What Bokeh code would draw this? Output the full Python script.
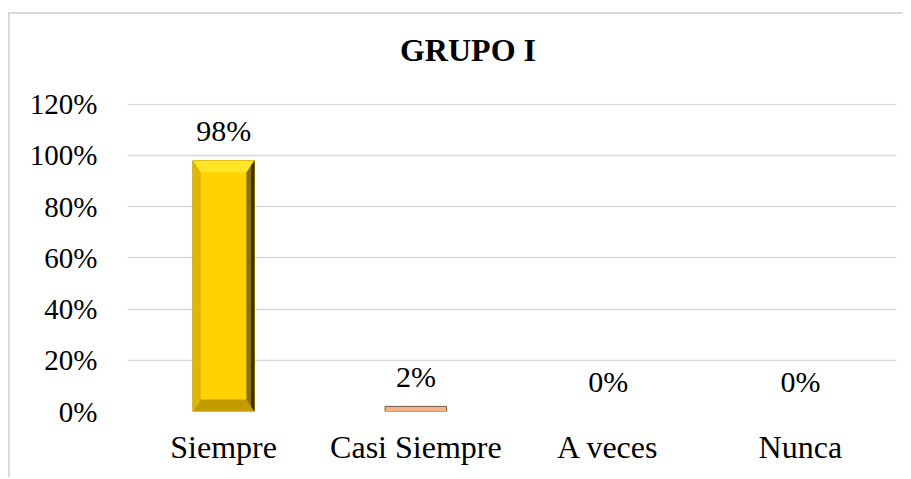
from bokeh.plotting import figure
from bokeh.models import (ColumnDataSource, FixedTicker, NumeralTickFormatter,
                          Range1d, LinearAxis)
from bokeh.core.properties import value
from bokeh.embed import file_html
from bokeh.resources import INLINE

# ---- data ----
categories = ["Siempre", "Casi Siempre", "A veces", "Nunca"]
values = [0.98, 0.02, 0.0, 0.0]
value_labels = ["98%", "2%", "0%", "0%"]
bar_colors = ["#FFD200", "#F4B183", "#A5A5A5", "#5B9BD5"]
y_ticks = [0.0, 0.2, 0.4, 0.6, 0.8, 1.0, 1.2]
title_text = "GRUPO I"

FONT = "Liberation Serif"
W, H = 895, 465
ML, MR, MT, MB = 117, 9, 89, 68
frame_w = W - ML - MR
frame_h = H - MT - MB
ymax = 1.203
n = len(categories)

p = figure(width=W, height=H, title=None,
           x_range=Range1d(0, n), y_range=Range1d(0, ymax),
           output_backend="svg", toolbar_location=None,
           min_border_left=ML, min_border_right=MR,
           min_border_top=MT, min_border_bottom=MB)
p.outline_line_color = None
p.background_fill_color = "white"
p.border_fill_color = "white"
p.styles = {"border-left": "2px solid #D9D9D9", "border-top": "2px solid #D9D9D9",
            "margin-left": "8px", "margin-top": "12px"}

# grid
p.xgrid.visible = False
p.ygrid.ticker = FixedTicker(ticks=y_ticks)
p.ygrid.grid_line_color = "#D9D9D9"
p.ygrid.grid_line_width = 1.5

# axes
centers = [i + 0.5 for i in range(n)]
xa = p.below[0]
ya = p.left[0]
xa.ticker = FixedTicker(ticks=centers)
xa.major_label_overrides = {c: cat for c, cat in zip(centers, categories)}
ya.ticker = FixedTicker(ticks=y_ticks)
ya.formatter = NumeralTickFormatter(format="0%")


def plain(ax):
    ax.axis_line_color = None
    ax.major_tick_line_color = None
    ax.minor_tick_line_color = None
    ax.major_tick_out = 0
    ax.major_tick_in = 0
    ax.minor_tick_out = 0
    ax.minor_tick_in = 0
    ax.major_label_text_font = FONT
    ax.major_label_text_color = "#000000"


plain(xa)
plain(ya)
ya.major_label_text_font_size = "29px"
ya.major_label_standoff = 30
xa.major_label_text_font_size = "32px"
xa.major_label_standoff = 17

# bars
bw = 0.32
line_cols = [("#B89400" if v >= 0.1 else "#6E5A46") if v > 0 else "rgba(0,0,0,0)"
             for v in values]
src = ColumnDataSource(dict(x=centers, top=values, color=bar_colors,
                            lc=line_cols, lab=value_labels))
p.vbar(x="x", top="top", width=bw, bottom=0, source=src,
       fill_color="color", line_color="lc", line_width=1)

# bevel edges (computed from bar values)
bx = 8 / frame_w * n
by = 12 / frame_h * ymax
xs, ys, cs = [], [], []
for c, v in zip(centers, values):
    if v < 0.1:
        continue
    L, R = c - bw / 2, c + bw / 2
    xs.append([L, R, R - bx, L + bx]); ys.append([v, v, v - by, v - by]); cs.append("#FFE626")
    xs.append([L, R, R - bx, L + bx]); ys.append([0, 0, by, by]); cs.append("#C29C00")
    xs.append([L, L, L + bx, L + bx]); ys.append([0, v, v - by, by]); cs.append("#E2B600")
    xs.append([R, R, R - bx, R - bx]); ys.append([0, v, v - by, by]); cs.append("#8C7000")
    xs.append([R, R, R - bx * 0.4, R - bx * 0.4]); ys.append([0, v, v - by * 0.4, by * 0.4]); cs.append("#3A2E00")
p.patches(xs, ys, fill_color=cs, line_color=None)

# value labels
p.text(x="x", y="top", text="lab", source=src, text_font=value(FONT),
       text_font_size="30px", text_align="center", text_baseline="middle",
       y_offset=-30, text_color="#000000")

# chart title, centred over the whole chart area (set above the frame)
title_x = round((457.5 - ML) / frame_w * n, 3)
title_axis = LinearAxis(ticker=FixedTicker(ticks=[title_x]),
                        major_label_overrides={title_x: title_text})
plain(title_axis)
title_axis.major_label_text_font_size = "32px"
title_axis.major_label_text_font_style = "bold"
title_axis.major_label_standoff = 36
p.add_layout(title_axis, "above")

open("out.html", "w").write(file_html(p, INLINE))
